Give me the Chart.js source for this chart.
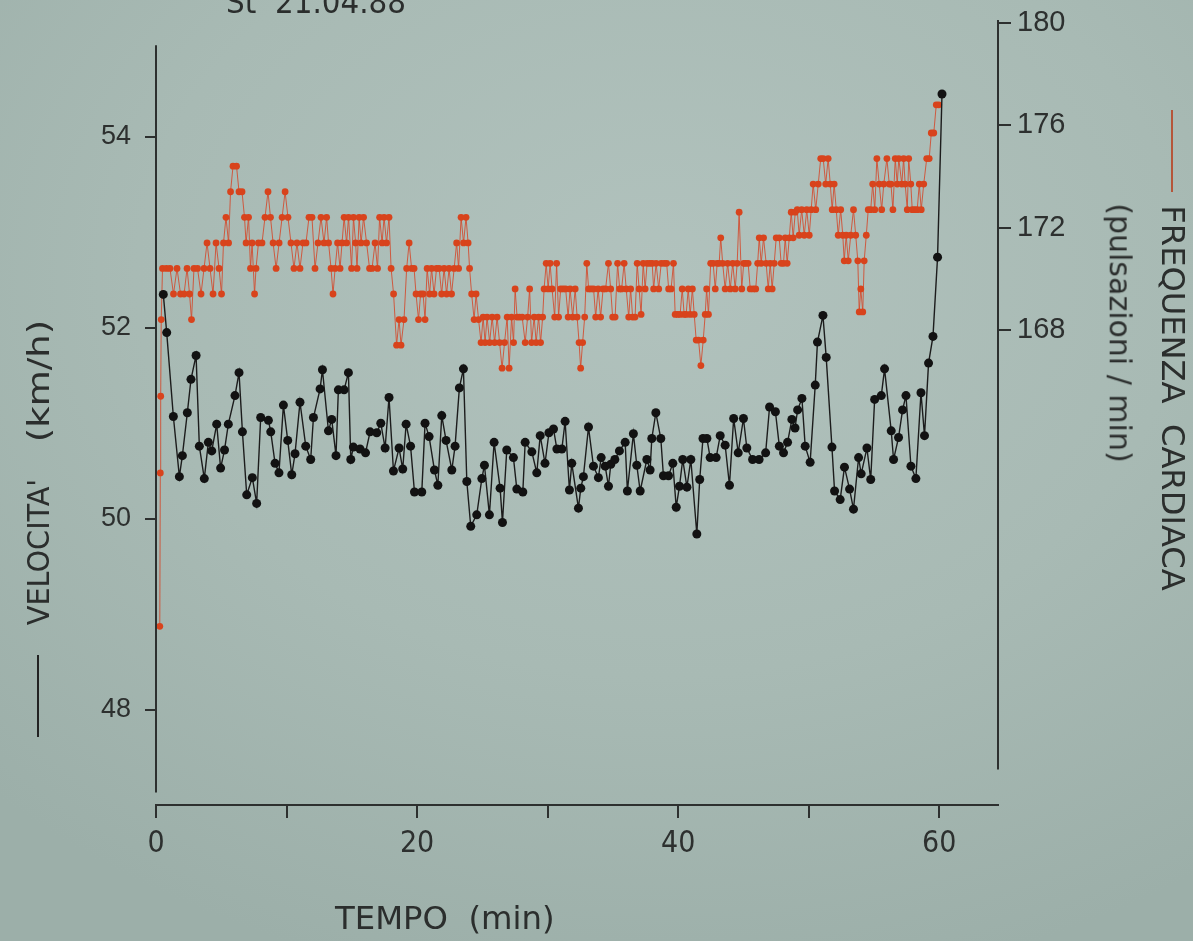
<!DOCTYPE html>
<html>
<head>
<meta charset="utf-8">
<title>Velocità e frequenza cardiaca</title>
<script src="https://cdn.jsdelivr.net/npm/chart.js@4.4.1/dist/chart.umd.min.js"></script>
<style>
  html, body { margin: 0; padding: 0; }
  body {
    width: 1193px; height: 941px; overflow: hidden; position: relative;
    background: radial-gradient(ellipse 950px 720px at 660px 280px, #b1c2bd 0%, #a8bab4 55%, #9cafa9 100%);
  }
  #plot { position: absolute; left: 0; top: 0; }
  .lbl {
    position: absolute; white-space: pre; line-height: 1; color: #2b2e2d;
    font-family: "Liberation Sans Narrow", "DejaVu Sans Condensed", "Liberation Sans", sans-serif;
    transform-origin: 50% 50%;
  }
  .dash { position: absolute; }
</style>
</head>
<body>
<canvas id="plot" width="1193" height="941"></canvas>
<div class="lbl" id="date">St  21.04.88</div>
<div class="lbl" id="tempo">TEMPO  (min)</div>
<div class="lbl" id="velo">VELOCITA'</div>
<div class="lbl" id="kmh">(km/h)</div>
<div class="lbl" id="freq">FREQUENZA  CARDIACA</div>
<div class="lbl" id="puls">(pulsazioni / min)</div>
<div class="dash" id="velDash"></div>
<div class="dash" id="hrDash"></div>

<script>
// ---- Speed record (km/h), one sample about every 20 s ----
const velTime = [
  0.56, 0.82, 1.33, 1.79, 2.02, 2.40, 2.68, 3.07, 3.32, 3.70,
  4.01, 4.27, 4.65, 4.95, 5.25, 5.54, 6.05, 6.36, 6.62, 6.95,
  7.38, 7.71, 8.02, 8.61, 8.79, 9.12, 9.42, 9.76, 10.09, 10.40,
  10.65, 11.03, 11.47, 11.85, 12.06, 12.57, 12.75, 13.21, 13.46, 13.79,
  13.97, 14.41, 14.74, 14.92, 15.12, 15.63, 16.05, 16.40, 16.91, 17.22,
  17.55, 17.85, 18.19, 18.62, 18.90, 19.16, 19.50, 19.80, 20.36, 20.61,
  20.92, 21.33, 21.59, 21.89, 22.22, 22.66, 22.91, 23.24, 23.55, 23.81,
  24.11, 24.57, 24.96, 25.16, 25.54, 25.90, 26.36, 26.54, 26.87, 27.38,
  27.64, 28.10, 28.28, 28.79, 29.17, 29.43, 29.80, 30.10, 30.45, 30.71,
  31.09, 31.34, 31.67, 31.85, 32.36, 32.54, 32.74, 33.13, 33.51, 33.89,
  34.10, 34.41, 34.66, 34.84, 35.15, 35.50, 35.94, 36.11, 36.57, 36.83,
  37.09, 37.60, 37.85, 37.98, 38.29, 38.67, 38.87, 39.26, 39.59, 39.85,
  40.10, 40.35, 40.67, 40.97, 41.43, 41.65, 41.90, 42.20, 42.45, 42.91,
  43.22, 43.60, 43.93, 44.25, 44.60, 45.00, 45.26, 45.70, 46.20, 46.70,
  47.00, 47.45, 47.75, 48.07, 48.38, 48.71, 48.95, 49.15, 49.48, 49.73,
  50.11, 50.50, 50.67, 51.09, 51.34, 51.78, 51.98, 52.41, 52.74, 53.13,
  53.43, 53.82, 54.02, 54.46, 54.75, 55.05, 55.56, 55.81, 56.32, 56.50,
  56.88, 57.19, 57.45, 57.83, 58.21, 58.60, 58.87, 59.18, 59.52, 59.87,
  60.21
];
const velKmh = [
  52.35, 51.95, 51.07, 50.44, 50.66, 51.11, 51.46, 51.71, 50.76, 50.42,
  50.80, 50.71, 50.99, 50.53, 50.72, 50.99, 51.29, 51.53, 50.91, 50.25,
  50.43, 50.16, 51.06, 51.03, 50.91, 50.58, 50.48, 51.19, 50.82, 50.46,
  50.68, 51.22, 50.76, 50.62, 51.06, 51.36, 51.56, 50.92, 51.04, 50.66,
  51.35, 51.35, 51.53, 50.62, 50.75, 50.73, 50.69, 50.91, 50.90, 51.00,
  50.74, 51.27, 50.50, 50.74, 50.52, 50.99, 50.76, 50.28, 50.28, 51.00,
  50.86, 50.51, 50.35, 51.08, 50.82, 50.51, 50.76, 51.37, 51.57, 50.39,
  49.92, 50.04, 50.42, 50.56, 50.04, 50.80, 50.32, 49.96, 50.72, 50.64,
  50.31, 50.28, 50.80, 50.70, 50.48, 50.87, 50.58, 50.90, 50.94, 50.73,
  50.73, 51.02, 50.30, 50.58, 50.11, 50.32, 50.44, 50.96, 50.55, 50.43,
  50.64, 50.55, 50.34, 50.57, 50.62, 50.71, 50.80, 50.29, 50.89, 50.56,
  50.29, 50.62, 50.51, 50.84, 51.11, 50.84, 50.45, 50.45, 50.58, 50.12,
  50.34, 50.62, 50.33, 50.62, 49.84, 50.41, 50.84, 50.84, 50.64, 50.64,
  50.87, 50.77, 50.35, 51.05, 50.69, 51.05, 50.74, 50.62, 50.62, 50.69,
  51.17, 51.12, 50.76, 50.69, 50.80, 51.04, 50.95, 51.14, 51.26, 50.76,
  50.59, 51.40, 51.85, 52.13, 51.69, 50.75, 50.29, 50.20, 50.54, 50.31,
  50.10, 50.64, 50.47, 50.74, 50.41, 51.25, 51.29, 51.57, 50.92, 50.62,
  50.85, 51.14, 51.29, 50.55, 50.42, 51.32, 50.87, 51.63, 51.91, 52.74,
  54.45
];

// ---- Heart-rate record (pulsazioni/min) ----
const hrTime = [
  0.29, 0.33, 0.36, 0.40, 0.50, 0.80, 1.07, 1.34, 1.61, 1.88,
  2.15, 2.38, 2.57, 2.72, 2.91, 3.18, 3.45, 3.68, 3.91, 4.14,
  4.37, 4.60, 4.83, 5.02, 5.17, 5.36, 5.56, 5.71, 5.90, 6.17,
  6.36, 6.59, 6.78, 6.90, 7.09, 7.24, 7.36, 7.55, 7.66, 7.85,
  8.12, 8.35, 8.58, 8.77, 8.97, 9.20, 9.43, 9.66, 9.89, 10.11,
  10.34, 10.57, 10.80, 11.03, 11.26, 11.49, 11.72, 11.95, 12.18, 12.41,
  12.64, 12.87, 13.07, 13.22, 13.41, 13.56, 13.72, 13.91, 14.10, 14.25,
  14.41, 14.60, 14.75, 14.98, 15.13, 15.29, 15.40, 15.56, 15.71, 15.90,
  16.13, 16.36, 16.55, 16.78, 16.97, 17.13, 17.32, 17.47, 17.66, 17.85,
  18.01, 18.20, 18.43, 18.62, 18.77, 19.00, 19.20, 19.39, 19.58, 19.77,
  19.92, 20.11, 20.27, 20.46, 20.61, 20.77, 20.96, 21.11, 21.30, 21.49,
  21.69, 21.88, 22.07, 22.26, 22.45, 22.64, 22.84, 23.03, 23.18, 23.37,
  23.56, 23.75, 23.91, 24.02, 24.18, 24.37, 24.52, 24.71,
  24.90, 25.06, 25.21, 25.36, 25.56, 25.75, 25.94, 26.13, 26.32, 26.51,
  26.70, 26.90, 27.05, 27.24, 27.39, 27.51, 27.66, 27.85, 28.05, 28.28,
  28.47, 28.62, 28.77, 28.97, 29.12, 29.31, 29.46, 29.62, 29.73, 29.89,
  30.04, 30.19, 30.34, 30.54, 30.69, 30.84, 31.00, 31.19, 31.38, 31.57,
  31.72, 31.92, 32.11, 32.26, 32.41, 32.53, 32.68, 32.84, 33.00, 33.14,
  33.33, 33.52, 33.68, 33.87, 34.06, 34.25, 34.44, 34.66, 34.83, 34.98,
  35.17, 35.36, 35.52, 35.67, 35.86, 36.02, 36.21, 36.36, 36.51, 36.70,
  36.86, 37.01,
  37.16, 37.32, 37.47, 37.62, 37.82, 38.01, 38.12, 38.31, 38.51, 38.70,
  38.93, 39.12, 39.27, 39.46, 39.64, 39.77, 39.96, 40.15, 40.31, 40.46,
  40.61, 40.77, 40.92, 41.09, 41.23, 41.38, 41.56, 41.74, 41.92, 42.07,
  42.18, 42.32, 42.49, 42.68, 42.84, 42.99, 43.14, 43.26, 43.41, 43.60,
  43.79, 43.99, 44.18, 44.37, 44.52, 44.67, 44.87, 45.02, 45.17, 45.36,
  45.52, 45.75, 45.94, 46.09, 46.21, 46.36, 46.54, 46.74, 46.90, 47.05,
  47.20, 47.36, 47.51, 47.74, 47.89, 48.07, 48.20, 48.35, 48.51, 48.66,
  48.81, 48.97,
  49.12, 49.27, 49.46, 49.66, 49.85, 50.04, 50.19, 50.34, 50.54, 50.73,
  50.92, 51.11, 51.30, 51.49, 51.65, 51.80, 51.95, 52.11, 52.26, 52.45,
  52.61, 52.72, 52.87, 53.03, 53.22, 53.43, 53.60, 53.76, 53.87, 53.99,
  54.14, 54.25, 54.41, 54.56, 54.75, 54.90, 55.06, 55.22, 55.40, 55.59,
  55.75, 55.99, 56.17, 56.30, 56.45, 56.63, 56.78, 56.90, 57.13, 57.27,
  57.39, 57.55, 57.66, 57.82, 57.93, 58.12, 58.31, 58.47, 58.62, 58.81,
  59.04, 59.23, 59.39, 59.58, 59.77, 59.96
];
const hrBpm = [
  156.4, 162.4, 165.4, 168.4, 170.4, 170.4, 170.4, 169.4, 170.4, 169.4,
  169.4, 170.4, 169.4, 168.4, 170.4, 170.4, 169.4, 170.4, 171.4, 170.4,
  169.4, 171.4, 170.4, 169.4, 171.4, 172.4, 171.4, 173.4, 174.4, 174.4,
  173.4, 173.4, 172.4, 171.4, 172.4, 170.4, 171.4, 169.4, 170.4, 171.4,
  171.4, 172.4, 173.4, 172.4, 171.4, 170.4, 171.4, 172.4, 173.4, 172.4,
  171.4, 170.4, 171.4, 170.4, 171.4, 171.4, 172.4, 172.4, 170.4, 171.4,
  172.4, 171.4, 172.4, 171.4, 170.4, 169.4, 170.4, 171.4, 170.4, 171.4,
  172.4, 171.4, 172.4, 170.4, 172.4, 171.4, 170.4, 172.4, 171.4, 172.4,
  171.4, 170.4, 170.4, 171.4, 170.4, 172.4, 171.4, 172.4, 171.4, 172.4,
  170.4, 169.4, 167.4, 168.4, 167.4, 168.4, 170.4, 171.4, 170.4, 170.4,
  169.4, 168.4, 169.4, 169.4, 168.4, 170.4, 169.4, 170.4, 169.4, 170.4,
  170.4, 169.4, 170.4, 169.4, 170.4, 169.4, 170.4, 171.4, 170.4, 172.4,
  171.4, 172.4, 171.4, 170.4, 169.4, 168.4, 169.4, 168.4,
  167.5, 168.5, 167.5, 168.5, 167.5, 168.5, 167.5, 168.5, 167.5, 166.5,
  167.5, 168.5, 166.5, 168.5, 167.5, 169.6, 168.5, 168.5, 168.5, 167.5,
  168.5, 169.6, 167.5, 168.5, 167.5, 168.5, 167.5, 168.5, 169.6, 170.6,
  169.6, 170.6, 169.6, 168.5, 170.6, 168.5, 169.6, 169.6, 169.6, 168.5,
  169.6, 168.5, 169.6, 168.5, 167.5, 166.5, 167.5, 168.5, 170.6, 169.6,
  169.6, 169.6, 168.5, 169.6, 168.5, 169.6, 169.6, 170.6, 169.6, 168.5,
  168.5, 170.6, 169.6, 169.6, 170.6, 169.6, 168.5, 169.6, 168.5, 168.5,
  170.6, 169.6,
  168.6, 170.6, 169.6, 170.6, 170.6, 170.6, 169.6, 170.6, 169.6, 170.6,
  170.6, 170.6, 169.6, 169.6, 170.6, 168.6, 168.6, 168.6, 169.6, 168.6,
  168.6, 169.6, 168.6, 169.6, 168.6, 167.6, 167.6, 166.6, 167.6, 168.6,
  169.6, 168.6, 170.6, 170.6, 169.6, 170.6, 170.6, 171.6, 170.6, 169.6,
  170.6, 169.6, 170.6, 169.6, 170.6, 172.6, 169.6, 170.6, 170.6, 170.6,
  169.6, 169.6, 169.6, 170.6, 171.6, 170.6, 171.6, 170.6, 169.6, 170.6,
  169.6, 170.6, 171.6, 171.6, 170.6, 170.6, 171.6, 170.6, 171.6, 172.6,
  171.6, 172.6,
  172.7, 171.7, 172.7, 171.7, 172.7, 171.7, 172.7, 173.7, 172.7, 173.7,
  174.7, 174.7, 173.7, 174.7, 173.7, 172.7, 173.7, 172.7, 171.7, 172.7,
  171.7, 170.7, 171.7, 170.7, 171.7, 172.7, 171.7, 170.7, 168.7, 169.6,
  168.7, 170.7, 171.7, 172.7, 172.7, 173.7, 172.7, 174.7, 173.7, 172.7,
  173.7, 174.7, 173.7, 173.7, 172.7, 174.7, 173.7, 174.7, 173.7, 174.7,
  173.7, 172.7, 174.7, 173.7, 172.7, 172.7, 172.7, 173.7, 172.7, 173.7,
  174.7, 174.7, 175.7, 175.7, 176.8, 176.8
];

// ---- Axis ticks and extents ----
const timeTicks   = [0, 10, 20, 30, 40, 50, 60];
const timeLabels  = [0, 20, 40, 60];
const speedTicks  = [48, 50, 52, 54];
const pulseTicks  = [168, 172, 176, 180];
const speedRange  = [47.0, 55.225];   // left scale
const pulseRange  = [149.41, 180.12]; // right scale
const timeRange   = [0, 64.5];
const speedSpine  = [47.13, 54.96];   // drawn extent of the left axis line
const pulseSpine  = [150.8, 180.12];  // drawn extent of the right axis line

const INK = '#2d302f';
const NARROW = '"Liberation Sans Narrow", "DejaVu Sans Condensed", "Liberation Sans", sans-serif';
const REGULAR = '"Liberation Sans", Arial, sans-serif';

function pairs(xs, ys) {
  const n = Math.min(xs.length, ys.length);
  const out = [];
  for (let i = 0; i < n; i++) out.push({ x: xs[i], y: ys[i] });
  return out;
}

// Vertical axis lines, drawn only over their own value span
const axisSpines = {
  id: 'axisSpines',
  afterDraw(chart) {
    const { ctx, scales } = chart;
    const yl = scales.y, yr = scales.y1;
    ctx.save();
    ctx.strokeStyle = INK;
    ctx.lineWidth = 2;
    ctx.beginPath();
    ctx.moveTo(yl.right, yl.getPixelForValue(speedSpine[1]));
    ctx.lineTo(yl.right, yl.getPixelForValue(speedSpine[0]));
    ctx.stroke();
    ctx.beginPath();
    ctx.moveTo(yr.left, yr.getPixelForValue(pulseSpine[1]));
    ctx.lineTo(yr.left, yr.getPixelForValue(pulseSpine[0]));
    ctx.stroke();
    ctx.restore();
  }
};

function tickGrid(len) {
  return { drawOnChartArea: false, drawTicks: true, tickLength: len, color: INK, lineWidth: 2 };
}

// fixed axis boxes: no extra room reserved for the outermost tick labels
function fixVertical(width) {
  return s => { s.width = width; s.paddingTop = 0; s.paddingBottom = 0; };
}

function drawChart() {
  new Chart(document.getElementById('plot'), {
    type: 'line',
    data: {
      datasets: [
        {
          label: 'Velocità',
          data: pairs(velTime, velKmh),
          yAxisID: 'y',
          borderColor: '#1c1c1c',
          borderWidth: 1.4,
          pointRadius: 4.5,
          pointBackgroundColor: '#121212',
          pointBorderWidth: 0,
          tension: 0,
          order: 0
        },
        {
          label: 'Frequenza cardiaca',
          data: pairs(hrTime, hrBpm),
          yAxisID: 'y1',
          borderColor: 'rgba(212, 72, 42, 0.85)',
          borderWidth: 1,
          pointRadius: 3.4,
          pointBackgroundColor: '#d8431c',
          pointBorderWidth: 0,
          tension: 0,
          order: 1
        }
      ]
    },
    options: {
      responsive: false,
      animation: false,
      devicePixelRatio: 1,
      events: [],
      layout: { padding: { top: 20, left: 0, right: 0, bottom: 0 } },
      plugins: { legend: { display: false }, tooltip: { enabled: false }, title: { display: false } },
      scales: {
        x: {
          type: 'linear', position: 'bottom',
          min: timeRange[0], max: timeRange[1],
          afterFit(s) { s.height = 136; s.paddingLeft = 0; s.paddingRight = 0; },
          afterBuildTicks(s) { s.ticks = timeTicks.map(v => ({ value: v })); },
          grid: tickGrid(13),
          border: { display: true, color: INK, width: 2 },
          ticks: {
            color: INK, padding: 8, maxRotation: 0, autoSkip: false,
            font: { size: 30, family: NARROW },
            callback: v => (timeLabels.includes(v) ? String(v) : '')
          }
        },
        y: {
          type: 'linear', position: 'left',
          min: speedRange[0], max: speedRange[1],
          afterFit: fixVertical(156),
          afterBuildTicks(s) { s.ticks = speedTicks.map(v => ({ value: v })); },
          grid: tickGrid(11),
          border: { display: false },
          ticks: { color: INK, padding: 14, font: { size: 27, family: REGULAR } }
        },
        y1: {
          type: 'linear', position: 'right',
          min: pulseRange[0], max: pulseRange[1],
          afterFit: fixVertical(195),
          afterBuildTicks(s) { s.ticks = pulseTicks.map(v => ({ value: v })); },
          grid: tickGrid(13),
          border: { display: false },
          ticks: { color: INK, padding: 6, font: { size: 29, family: REGULAR } }
        }
      }
    },
    plugins: [axisSpines]
  });
}

// Text labels: centre (cx, cy), rotation, font size and run length along the text
function place(id, cx, cy, angle, size, length) {
  const el = document.getElementById(id);
  el.style.fontSize = size + 'px';
  const w = el.offsetWidth, h = el.offsetHeight;
  el.style.left = (cx - w / 2) + 'px';
  el.style.top = (cy - h / 2) + 'px';
  el.style.transform = 'rotate(' + angle + 'deg) scaleX(' + (length / w).toFixed(4) + ')';
}

function dash(id, left, top, w, h, color) {
  const el = document.getElementById(id);
  Object.assign(el.style, { left: left + 'px', top: top + 'px', width: w + 'px', height: h + 'px', background: color });
}

function layoutText() {
  place('date', 316, 2, 0, 32, 180);
  place('tempo', 445, 918, 0, 32, 220);
  place('velo', 38.5, 551.5, -90, 30, 147);
  place('kmh', 38.5, 381, -90, 30, 122);
  place('freq', 1172, 397.5, 90, 32, 385);
  place('puls', 1119, 332.5, 90, 30, 259);
  dash('velDash', 37, 655, 2, 82, '#222');
  dash('hrDash', 1171, 110, 2, 82, '#b5563a');
}

Promise.all([
  document.fonts.load('27px "Liberation Sans"'),
  document.fonts.load('30px "Liberation Sans Narrow"'),
  document.fonts.load('30px "DejaVu Sans Condensed"')
]).catch(() => null).then(() => {
  drawChart();
  layoutText();
});
</script>
</body>
</html>
